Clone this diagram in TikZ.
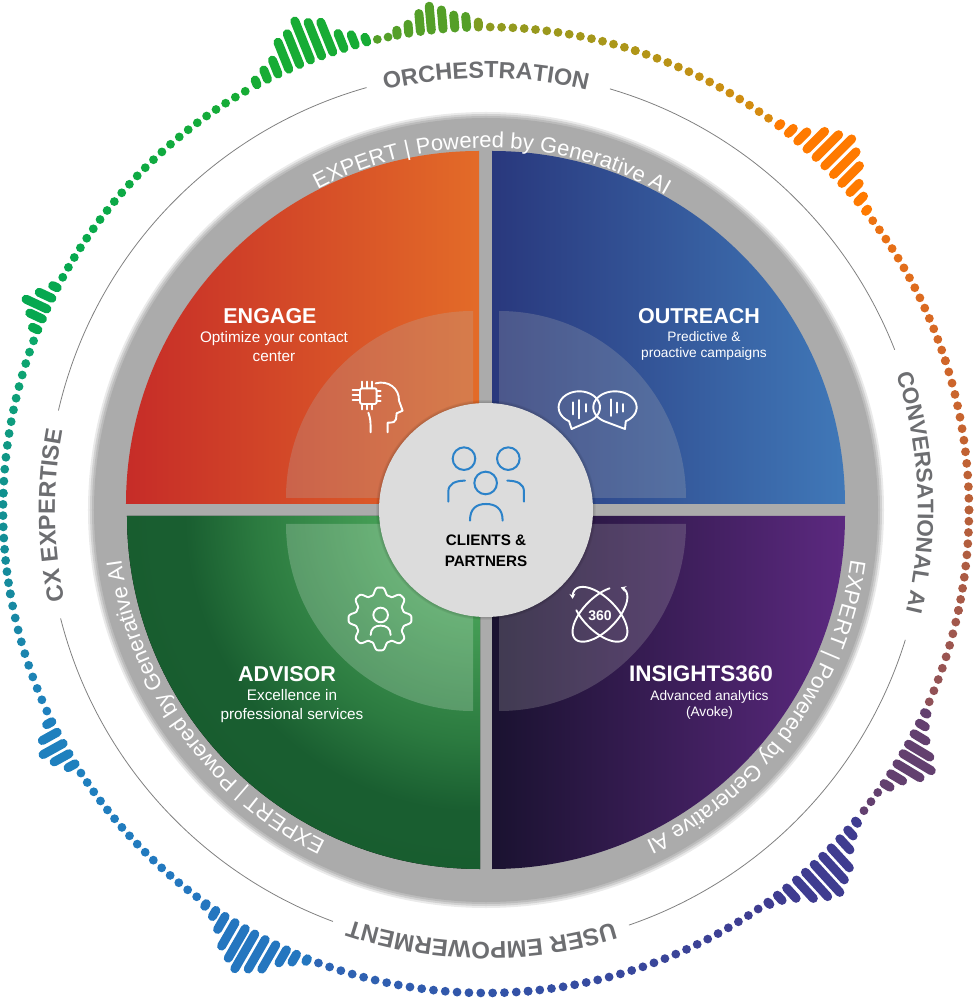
\documentclass[tikz,border=0pt]{standalone}
\usepackage{fontspec}
\setmainfont{Liberation Sans}
\usetikzlibrary{decorations.text,arrows.meta}
\definecolor{ringgray}{HTML}{ABABAB}
\definecolor{hubgray}{HTML}{DCDCDC}
\definecolor{labelgray}{HTML}{6D6E71}
\definecolor{peopleblue}{HTML}{2B82C9}
\definecolor{veilgray}{HTML}{B4B4B4}
\definecolor{engageleft}{HTML}{C62C28}
\definecolor{engageright}{HTML}{E36B28}
\definecolor{outreachleft}{HTML}{29387D}
\definecolor{outreachright}{HTML}{4078B8}
\definecolor{insightsleft}{HTML}{1A1230}
\definecolor{insightsright}{HTML}{5C2980}
\definecolor{waveolive}{HTML}{8E9A20}
\definecolor{waveochre}{HTML}{B09618}
\definecolor{wavegold}{HTML}{D88A10}
\definecolor{waveorange}{HTML}{FF7A00}
\definecolor{waveamber}{HTML}{EC7212}
\definecolor{waverust}{HTML}{D0662A}
\definecolor{wavebrown}{HTML}{B86038}
\definecolor{waveclay}{HTML}{A5594A}
\definecolor{wavemauve}{HTML}{8F5158}
\definecolor{wavepurple}{HTML}{63406F}
\definecolor{waveindigo}{HTML}{3F3C90}
\definecolor{waveroyal}{HTML}{3350A5}
\definecolor{wavesky}{HTML}{2E66B5}
\definecolor{waveblue}{HTML}{2476BF}
\definecolor{waveteal}{HTML}{1F80BE}
\definecolor{wavecyan}{HTML}{178A9F}
\definecolor{wavesea}{HTML}{10918F}
\definecolor{wavemint}{HTML}{0CA86A}
\definecolor{wavejade}{HTML}{06A850}
\definecolor{wavegreen}{HTML}{17AC35}
\definecolor{wavemoss}{HTML}{549F28}
\pgfdeclareradialshading{advisorshade}{\pgfpoint{0bp}{0bp}}{rgb(0bp)=(.33,.69,.40); rgb(4bp)=(.30,.66,.36); rgb(13.5bp)=(.17,.48,.25); rgb(17.7bp)=(.10,.37,.19); rgb(25bp)=(.09,.36,.18); rgb(50bp)=(.09,.36,.18)}
\newcommand\ringfont{\fontsize{22}{26}\selectfont\color{white}}
\newcommand\outerfont[1]{\fontsize{#1}{28}\selectfont\bfseries\color{labelgray}}
\tikzset{
    wavebar/.style={line width=9pt,line cap=round},
    titletext/.style={text=white,font=\fontsize{21.5}{26}\selectfont\bfseries,inner sep=0pt},
    subtext/.style={text=white,font=\fontsize{15.3}{19}\selectfont,align=center,inner sep=0pt},
    smalltext/.style={text=white,font=\fontsize{13.7}{16}\selectfont,align=center,inner sep=0pt},
    iconline/.style={draw=white,line width=1.9pt,line cap=round,line join=round},
    peopleline/.style={draw=peopleblue,line width=2pt,line cap=round},
    ringtext/.style={decorate,decoration={text along path,text align=center,text={#1}}}
}
\begin{document}
\begin{tikzpicture}[x=1pt,y=1pt]
    \useasboundingbox (-486,-490) rectangle (491,510);

    % gray ring
    \foreach \r/\g in {398/25,396/55,394/80,392/100}
        \fill[ringgray!\g!white] (0,0) circle (\r pt);

    % quadrants
    \shade[left color=engageleft,right color=engageright]
        (-7,6) -- (-360,6) arc[start angle=180,end angle=90,radius=353pt] -- cycle;
    \shade[left color=outreachleft,right color=outreachright]
        (6,6) -- (6,359) arc[start angle=90,end angle=0,radius=353pt] -- cycle;
    \begin{scope}
        \clip (-6,-6) -- (-359,-6) arc[start angle=180,end angle=270,radius=353pt] -- cycle;
        \fill[shading=advisorshade] (-6,-6) circle (415pt);
    \end{scope}
    \shade[left color=insightsleft,right color=insightsright]
        (6,-6) -- (359,-6) arc[start angle=0,end angle=-90,radius=353pt] -- cycle;

    % lighter inner quadrants
    \fill[veilgray,fill opacity=.25] (-13,12) -- (-200,12) arc[start angle=180,end angle=90,radius=187pt] -- cycle;
    \fill[veilgray,fill opacity=.25] (13,12) -- (13,199) arc[start angle=90,end angle=0,radius=187pt] -- cycle;
    \fill[white,fill opacity=.2] (-13,-14) -- (-200,-14) arc[start angle=180,end angle=270,radius=187pt] -- cycle;
    \fill[veilgray,fill opacity=.25] (13,-14) -- (200,-14) arc[start angle=0,end angle=-90,radius=187pt] -- cycle;

    % hub
    \foreach \r in {110,109,108}
        \fill[black,fill opacity=.05] (0,0) circle (\r pt);
    \fill[hubgray] (0,0) circle (107pt);

    % thin arcs
    \foreach \a/\b in {105.8/166.9,73.6/21.4,-17.2/-71,-110.4/-165.7}
        \draw[gray,line width=.8pt] (\a:439) arc[start angle=\a,end angle=\b,radius=439pt];

    % curved labels
    \foreach \mid/\r in {89/362,-36/368,216/368}
        \path[ringtext={|\ringfont|EXPERT {|} Powered by Generative AI}]
            (\mid+45:\r) arc[start angle=\mid+45,end angle=\mid-45,radius=\r pt];
    \path[ringtext={|\outerfont{23.4}|ORCHESTRATION}] (130:432) arc[start angle=130,end angle=50,radius=432pt];
    \path[ringtext={|\outerfont{22.5}|CONVERSATIONAL AI}] (42.4:432) arc[start angle=42.4,end angle=-37.6,radius=432pt];
    \path[ringtext={|\outerfont{24}|USER EMPOWERMENT}] (-50.6:432) arc[start angle=-50.6,end angle=-130.6,radius=432pt];
    \path[ringtext={|\outerfont{23.5}|CX EXPERTISE}] (220.7:431) arc[start angle=220.7,end angle=140.7,radius=431pt];

    % dots, outer ring
    \foreach \from/\to/\n/\ca/\cb in {
        89.5/72/13/waveolive/waveochre,
        72/54.2/13/waveochre/wavegold,
        36.8/18/14/waveamber/waverust,
        18/0/13/waverust/wavebrown,
        0/-12/9/wavebrown/waveclay,
        -12/-23.4/8/waveclay/wavemauve,
        -35.8/-38.5/2/wavepurple/wavepurple,
        -55.7/-85/21/waveindigo/waveroyal,
        -85/-110.3/18/waveroyal/wavesky,
        233.2/213/15/waveblue/waveteal,
        204.6/190/10/waveteal/wavecyan,
        190/178/9/wavecyan/wavesea,
        178/159.5/13/wavesea/wavemint,
        151.2/119.9/23/wavejade/wavegreen,
        103/101.7/1/wavemoss/wavemoss}
    {
        \foreach \k in {0,...,\n} {
            \pgfmathsetmacro\ang{\from+(\to-\from)*\k/\n}
            \pgfmathsetmacro\pct{100*\k/\n}
            \colorlet{dotcolor}{\cb!\pct!\ca}
            \fill[dotcolor] (\ang:483) circle (4.4pt);
        }
    }

    % bars, outer ring, parallel inside each group
    \foreach \ang/\len in {100.6/5,99.2/9,97.8/18,96.5/24,95.1/19,93.7/13,92.3/11}
        \draw[wavebar,wavemoss] (\ang:483) -- ++(95:\len);
    \draw[wavebar,waveolive!70!wavemoss] (90.9:483) -- ++(92:5);
    \foreach \ang/\len in {104.3/5,105.7/11,107.1/16,108.5/32,109.9/36,111.3/42,112.7/33,114.1/29,115.5/15,116.9/10,118.3/5}
        \draw[wavebar,wavegreen] (\ang:483) -- ++(112:\len);
    \foreach \ang/\len in {52.7/3,51.25/7,49.8/13,48.35/25,46.9/32,45.45/38,44/32,42.55/25,41.1/13,39.65/8,38.2/3}
        \draw[wavebar,waveorange] (\ang:483) -- ++(45:\len);
    \foreach \ang/\len in {-24.8/3,-26.2/7,-27.6/14,-29/25,-30.3/33,-31.7/27,-33.1/14,-34.5/7}
        \draw[wavebar,wavepurple] (\ang:483) -- ++(-31:\len);
    \foreach \ang/\len in {-40.1/3,-41.5/8,-42.9/15,-44.4/27,-45.8/32,-47.2/38,-48.6/33,-50/25,-51.5/14,-52.9/7,-54.3/3}
        \draw[wavebar,waveindigo] (\ang:483) -- ++(-47.5:\len);
    \foreach \ang/\len in {-111.7/3,-113.1/9,-114.4/15,-115.8/28,-117.2/34,-118.6/40,-119.9/34,-121.3/27,-122.7/15,-124/7,-125.4/3}
        \draw[wavebar,waveblue] (\ang:483) -- ++(-120:\len);
    \foreach \ang/\len in {211.7/8,210.3/17,208.9/23,207.4/17,206/6}
        \draw[wavebar,waveteal] (\ang:483) -- ++(209:\len);
    \foreach \ang/\len in {152.6/5,154/14,155.4/23,156.7/14,158.1/6}
        \draw[wavebar,wavejade] (\ang:483) -- ++(155:\len);

    % texts, at pixel positions
    \begin{scope}[shift={(-486,510)},y=-1pt]
        \node[titletext] (engage) at (270,316) {ENGAGE};
        \node[subtext] (engagesub) at (274,347) {Optimize your contact\\center};
        \node[titletext] (outreach) at (699,316) {OUTREACH};
        \node[smalltext] (outreachsub) at (704,346) {Predictive \&\\proactive campaigns};
        \node[titletext] (advisor) at (287,674) {ADVISOR};
        \node[subtext] (advisorsub) at (292,706) {Excellence in\\professional services};
        \node[titletext,font=\fontsize{22.5}{26}\selectfont\bfseries] (insights) at (701,674) {INSIGHTS360};
        \node[smalltext] (insightssub) at (709.5,705) {Advanced analytics\\(Avoke)};
        \node[inner sep=0pt,align=center,font=\fontsize{15.2}{21}\selectfont\bfseries] (clients) at (486,551) {CLIENTS \&\\PARTNERS};
        \node[inner sep=0pt,text=white,font=\fontsize{14}{16}\selectfont\bfseries] (threesixty) at (600,616) {360};

        % icons, three times enlarged
        \begin{scope}[shift={(340,360)},x=.3333pt,y=-.3333pt]
            % people
            \draw[peopleline] (372,296) circle (11.3pt);
            \draw[peopleline] (505,296) circle (11.3pt);
            \draw[peopleline] (437,369) circle (11.3pt);
            \draw[peopleline] (325,425) -- (325,395) .. controls (325,372) and (345,362) .. (375,362);
            \draw[peopleline] (552,425) -- (552,395) .. controls (552,372) and (532,362) .. (502,362);
            \draw[peopleline] (390,482) .. controls (390,445) and (410,432) .. (438,432) .. controls (466,432) and (488,445) .. (488,482);

            % head with chip
            \draw[iconline,rounded corners=2pt] (60,85) rectangle (110,132);
            \foreach \p in {67,82,97} {
                \draw[iconline] (\p,65) -- (\p,85);
                \draw[iconline] (\p,132) -- (\p,148);
            }
            \foreach \p in {90,105,120}
                \draw[iconline] (38,\p) -- (60,\p);
            \foreach \p in {92,108,122}
                \draw[iconline] (110,\p) -- (122,\p);
            \draw[iconline] (107,70) .. controls (145,60) and (178,85) .. (177,122) -- (188,152) -- (170,160) -- (168,178) .. controls (167,186) and (160,188) .. (143,188) -- (143,217);
            \draw[iconline] (85,158) .. controls (92,175) and (92,190) .. (92,217);

            % speech bubbles
            \draw[iconline] plot[domain=60:-240,samples=50] ({718+62*cos(\x)},{142+48*sin(\x)}) -- (695,207) -- cycle;
            \draw[iconline] plot[domain=120:420,samples=50] ({825+65*cos(\x)},{142+48*sin(\x)}) -- (855,207) -- cycle;
            \draw[iconline] (698,127) -- (698,163);
            \draw[iconline] (716,120) -- (716,175);
            \draw[iconline] (737,132) -- (737,155);
            \draw[iconline] (812,118) -- (812,168);
            \draw[iconline] (832,128) -- (832,158);
            \draw[iconline] (850,132) -- (850,155);

            % gear with person
            \draw[iconline] plot[domain=0:360,samples=145,smooth] ({120+(84+12*(cos(8*\x)-.15*cos(24*\x)))*cos(\x)},{777+(84+12*(cos(8*\x)-.15*cos(24*\x)))*sin(\x)}) -- cycle;
            \draw[iconline] (122,765) circle (7.3pt);
            \draw[iconline] (92,825) .. controls (92,805) and (105,797) .. (122,797) .. controls (139,797) and (152,805) .. (152,825);

            % orbits
            \draw[iconline,-{Stealth[length=5pt,width=6pt]}] plot[domain=316:-15,samples=70] ({780+(105*cos(\x)+50*sin(\x))*.707},{763+(-105*cos(\x)+50*sin(\x))*.707});
            \draw[iconline,-{Stealth[length=5pt,width=6pt]}] plot[domain=56:390,samples=70] ({780-(105*cos(\x)+50*sin(\x))*.707},{763+(-105*cos(\x)+50*sin(\x))*.707});
        \end{scope}
    \end{scope}
\end{tikzpicture}
\end{document}
